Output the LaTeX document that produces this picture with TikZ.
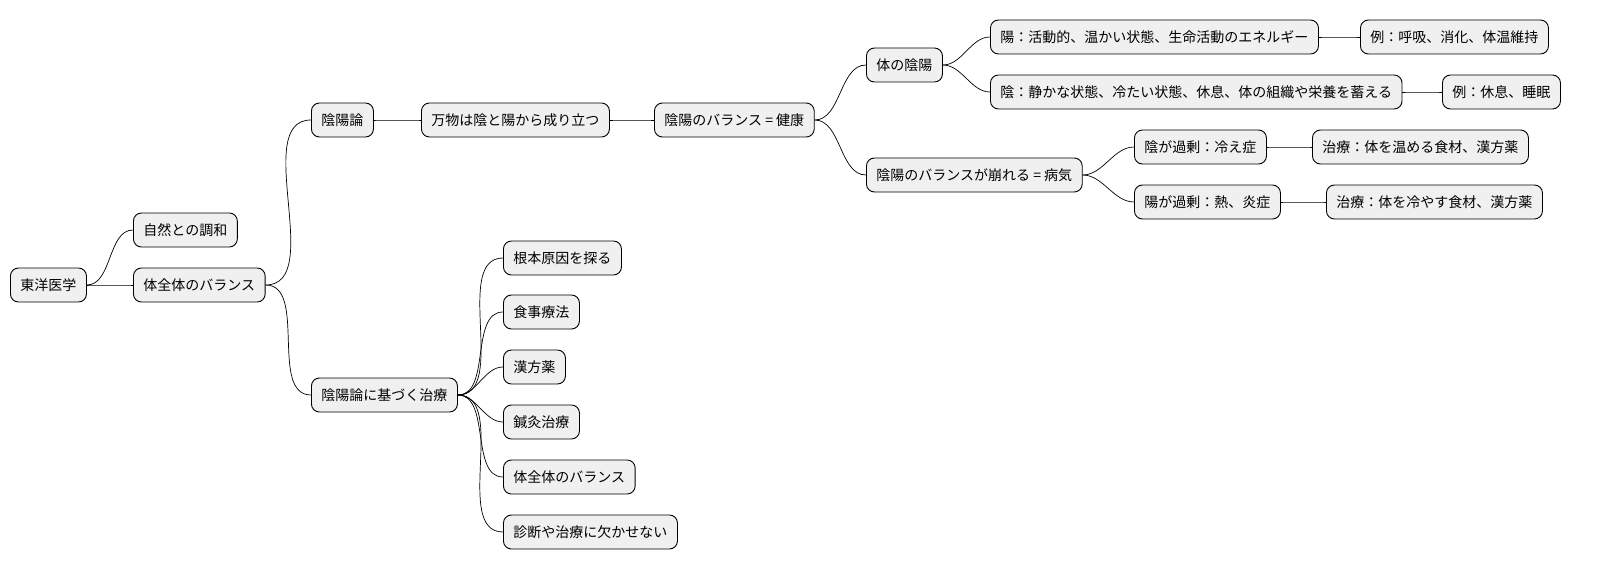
\documentclass[tikz,border=0pt]{standalone}
\usepackage{fontspec}
\setmainfont{Noto Sans CJK JP}
\begin{document}
\begin{tikzpicture}[x=1pt,y=-1pt,
  nd/.style={draw=black,fill=black!6,rounded corners=8pt,line width=0.9pt,anchor=west,minimum height=34pt,inner xsep=10pt,font=\fontsize{14}{16}\selectfont},
  ed/.style={line width=0.7pt,out=0,in=180,looseness=0.9}]
\useasboundingbox (0,0) rectangle (1601,583);
\node[nd] (a) at (10,285) {東洋医学};
\node[nd] (b1) at (133,230) {自然との調和};
\node[nd] (b2) at (133,285) {体全体のバランス};
\node[nd] (c1) at (311,120) {陰陽論};
\node[nd] (c2) at (311,395) {陰陽論に基づく治療};
\node[nd] (d1) at (421,120) {万物は陰と陽から成り立つ};
\node[nd] (e1) at (654,120) {陰陽のバランス = 健康};
\node[nd] (f1) at (866,65) {体の陰陽};
\node[nd] (f2) at (866,175) {陰陽のバランスが崩れる = 病気};
\node[nd] (g1) at (990,37) {陽：活動的、温かい状態、生命活動のエネルギー};
\node[nd] (g2) at (990,92) {陰：静かな状態、冷たい状態、休息、体の組織や栄養を蓄える};
\node[nd] (h1) at (1360,37) {例：呼吸、消化、体温維持};
\node[nd] (h2) at (1442,92) {例：休息、睡眠};
\node[nd] (g3) at (1134,147) {陰が過剰：冷え症};
\node[nd] (g4) at (1134,202) {陽が過剰：熱、炎症};
\node[nd] (h3) at (1312,147) {治療：体を温める食材、漢方薬};
\node[nd] (h4) at (1326,202) {治療：体を冷やす食材、漢方薬};
\node[nd] (k1) at (503,258) {根本原因を探る};
\node[nd] (k2) at (503,312) {食事療法};
\node[nd] (k3) at (503,367) {漢方薬};
\node[nd] (k4) at (503,422) {鍼灸治療};
\node[nd] (k5) at (503,477) {体全体のバランス};
\node[nd] (k6) at (503,532) {診断や治療に欠かせない};
\foreach \p/\c in {a/b1,a/b2,b2/c1,b2/c2,c1/d1,d1/e1,e1/f1,e1/f2,f1/g1,f1/g2,g1/h1,g2/h2,f2/g3,f2/g4,g3/h3,g4/h4,c2/k1,c2/k2,c2/k3,c2/k4,c2/k5,c2/k6}
  \draw[ed] (\p.east) to (\c.west);
\end{tikzpicture}
\end{document}
